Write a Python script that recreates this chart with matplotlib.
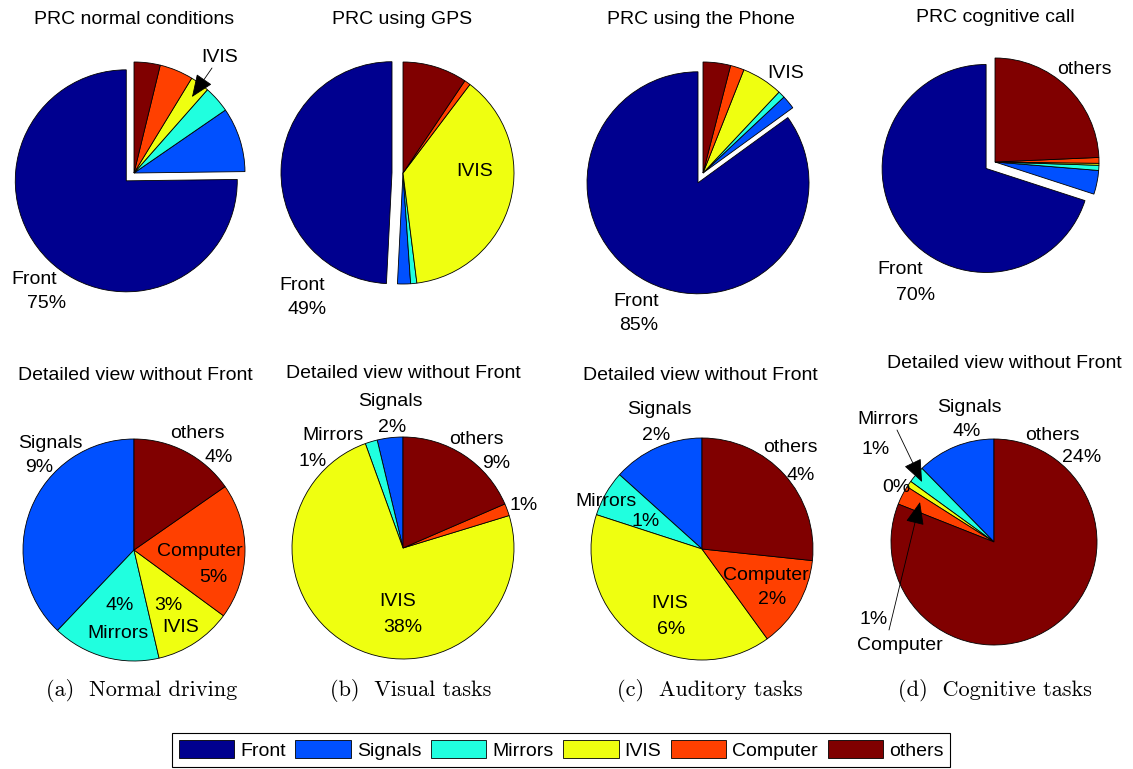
import matplotlib
matplotlib.use("Agg")
import matplotlib.pyplot as plt
from matplotlib.patches import Patch

W, H = 1133, 769

# ---------------------------------------------------------------- data
categories = ["Front", "Signals", "Mirrors", "IVIS", "Computer", "others"]

# share of glance time (%) per region, same order as categories
normal_driving = [75.2, 9.4, 3.9, 2.8, 4.9, 3.8]
visual_tasks = [49.2, 1.9, 0.9, 37.7, 0.9, 9.4]
auditory_tasks = [85.0, 2.0, 1.0, 6.0, 2.0, 4.0]
cognitive_tasks = [70.0, 3.7, 0.8, 0.3, 0.9, 24.3]

top_titles = ["PRC normal conditions", "PRC using GPS",
              "PRC using the Phone", "PRC cognitive call"]
bottom_title = "Detailed view without Front"
captions = ["(a)  Normal driving", "(b)  Visual tasks",
            "(c)  Auditory tasks", "(d)  Cognitive tasks"]

# ---------------------------------------------------------------- style
colors = [(0.0, 0.0, 0.5625), (0.0, 0.3125, 1.0), (0.125, 1.0, 0.875),
          (0.9375, 1.0, 0.0625), (1.0, 0.25, 0.0), (0.5, 0.0, 0.0)]
SANS = "Liberation Sans"
FS = 14
EDGE = dict(edgecolor="black", linewidth=0.6)

# ---------------------------------------------------------------- layout (pixels, y from top)
panels = [
    dict(values=normal_driving,
         top=(134, 173, 111), bottom=(134, 550, 111),
         top_title=(134, 20), bottom_title=(135, 376), caption=(142, 690),
         top_labels=[(0, (34, 279), (47, 304)), (3, (220, 57), None)],
         top_arrows=[((212, 68), (192, 97))],
         bottom_labels=[(1, (50, 443), (39, 467)), (2, (118, 633), (120, 605)),
                        (3, (181, 628), (168, 605)), (4, (200, 551), (213, 578)),
                        (5, (197, 433), (219, 457))],
         bottom_arrows=[]),
    dict(values=visual_tasks,
         top=(403, 173, 111), bottom=(403, 548, 111),
         top_title=(402, 20), bottom_title=(403, 373), caption=(411, 690),
         top_labels=[(0, (302, 285), (307, 309)), (3, (475, 172), None)],
         top_arrows=[],
         bottom_labels=[(1, (390, 402), (392, 428)), (2, (333, 436), (313, 462)),
                        (3, (398, 601), (403, 628)), (4, None, (524, 505)),
                        (5, (476, 440), (496, 464))],
         bottom_arrows=[]),
    dict(values=auditory_tasks,
         top=(703, 173, 111), bottom=(702, 549, 111),
         top_title=(701, 20), bottom_title=(700, 376), caption=(710, 690),
         top_labels=[(0, (636, 302), (639, 326)), (3, (786, 74), None)],
         top_arrows=[],
         bottom_labels=[(1, (659, 409), (656, 436)), (2, (606, 501), (646, 522)),
                        (3, (670, 603), (671, 629)), (4, (766, 575), (772, 600)),
                        (5, (790, 447), (801, 476))],
         bottom_arrows=[]),
    dict(values=cognitive_tasks,
         top=(995, 162, 104), bottom=(994, 542, 103),
         top_title=(995, 17), bottom_title=(1004, 364), caption=(995, 690),
         top_labels=[(0, (900, 270), (916, 295)), (5, (1084, 70), None)],
         top_arrows=[],
         bottom_labels=[(1, (969, 408), (967, 432)), (2, (888, 420), (876, 449)),
                        (3, None, (896, 488)), (4, (900, 646), (874, 620)),
                        (5, (1052, 435), (1082, 457))],
         bottom_arrows=[((897, 430), (922, 482)), ((889, 630), (920, 502))]),
]
FRONT_EXPLODE = 11

# ---------------------------------------------------------------- drawing
fig = plt.figure(figsize=(W / 100, H / 100), dpi=100)
ax = fig.add_axes([0, 0, 1, 1])


def P(x, y):
    return (x, H - y)


def label(xy, s, **kw):
    ax.text(*P(*xy), s, ha="center", va="center", family=SANS, fontsize=FS, **kw)


def arrow(tail, tip):
    ax.annotate("", xy=P(*tip), xytext=P(*tail),
                arrowprops=dict(arrowstyle="-|>,head_length=1.1,head_width=0.45",
                                mutation_scale=13, color="black", lw=0.6,
                                shrinkA=0, shrinkB=0))


for i, p in enumerate(panels):
    vals = p["values"]

    # full distribution, Front pulled out
    cx, cy, r = p["top"]
    ax.pie(vals, colors=colors, startangle=90, counterclock=True,
           center=P(cx, cy), radius=r, frame=True,
           explode=[FRONT_EXPLODE] + [0] * (len(vals) - 1),
           wedgeprops=EDGE)
    label(p["top_title"], top_titles[i])
    for idx, name_xy, pct_xy in p["top_labels"]:
        if name_xy:
            label(name_xy, categories[idx])
        if pct_xy:
            label(pct_xy, f"{vals[idx]:.0f}%")
    for tail, tip in p["top_arrows"]:
        arrow(tail, tip)

    # detailed view without Front
    cx, cy, r = p["bottom"]
    ax.pie(vals[1:], colors=colors[1:], startangle=90, counterclock=True,
           center=P(cx, cy), radius=r, frame=True, wedgeprops=EDGE)
    label(p["bottom_title"], bottom_title)
    for idx, name_xy, pct_xy in p["bottom_labels"]:
        if name_xy:
            label(name_xy, categories[idx])
        if pct_xy:
            label(pct_xy, f"{vals[idx]:.0f}%")
    for tail, tip in p["bottom_arrows"]:
        arrow(tail, tip)

    ax.text(*P(*p["caption"]), captions[i], ha="center",
            va="center", family="cmr10", fontsize=16)

ax.set_aspect("auto")
ax.set_xlim(0, W)
ax.set_ylim(0, H)
ax.axis("off")

handles = [Patch(facecolor=c, edgecolor="black", linewidth=0.6, label=n)
           for c, n in zip(colors, categories)]
leg = fig.legend(handles=handles, loc="upper left",
                 bbox_to_anchor=(172 / W, 1 - 733 / H), ncol=6,
                 frameon=True, fancybox=False, edgecolor="black", framealpha=1,
                 borderaxespad=0, handlelength=2.85, handleheight=1.1,
                 handletextpad=0.3, columnspacing=0.5, borderpad=0.35,
                 prop=dict(family=SANS, size=FS))
leg.get_frame().set_linewidth(0.8)

fig.savefig("out.png", dpi=100)
